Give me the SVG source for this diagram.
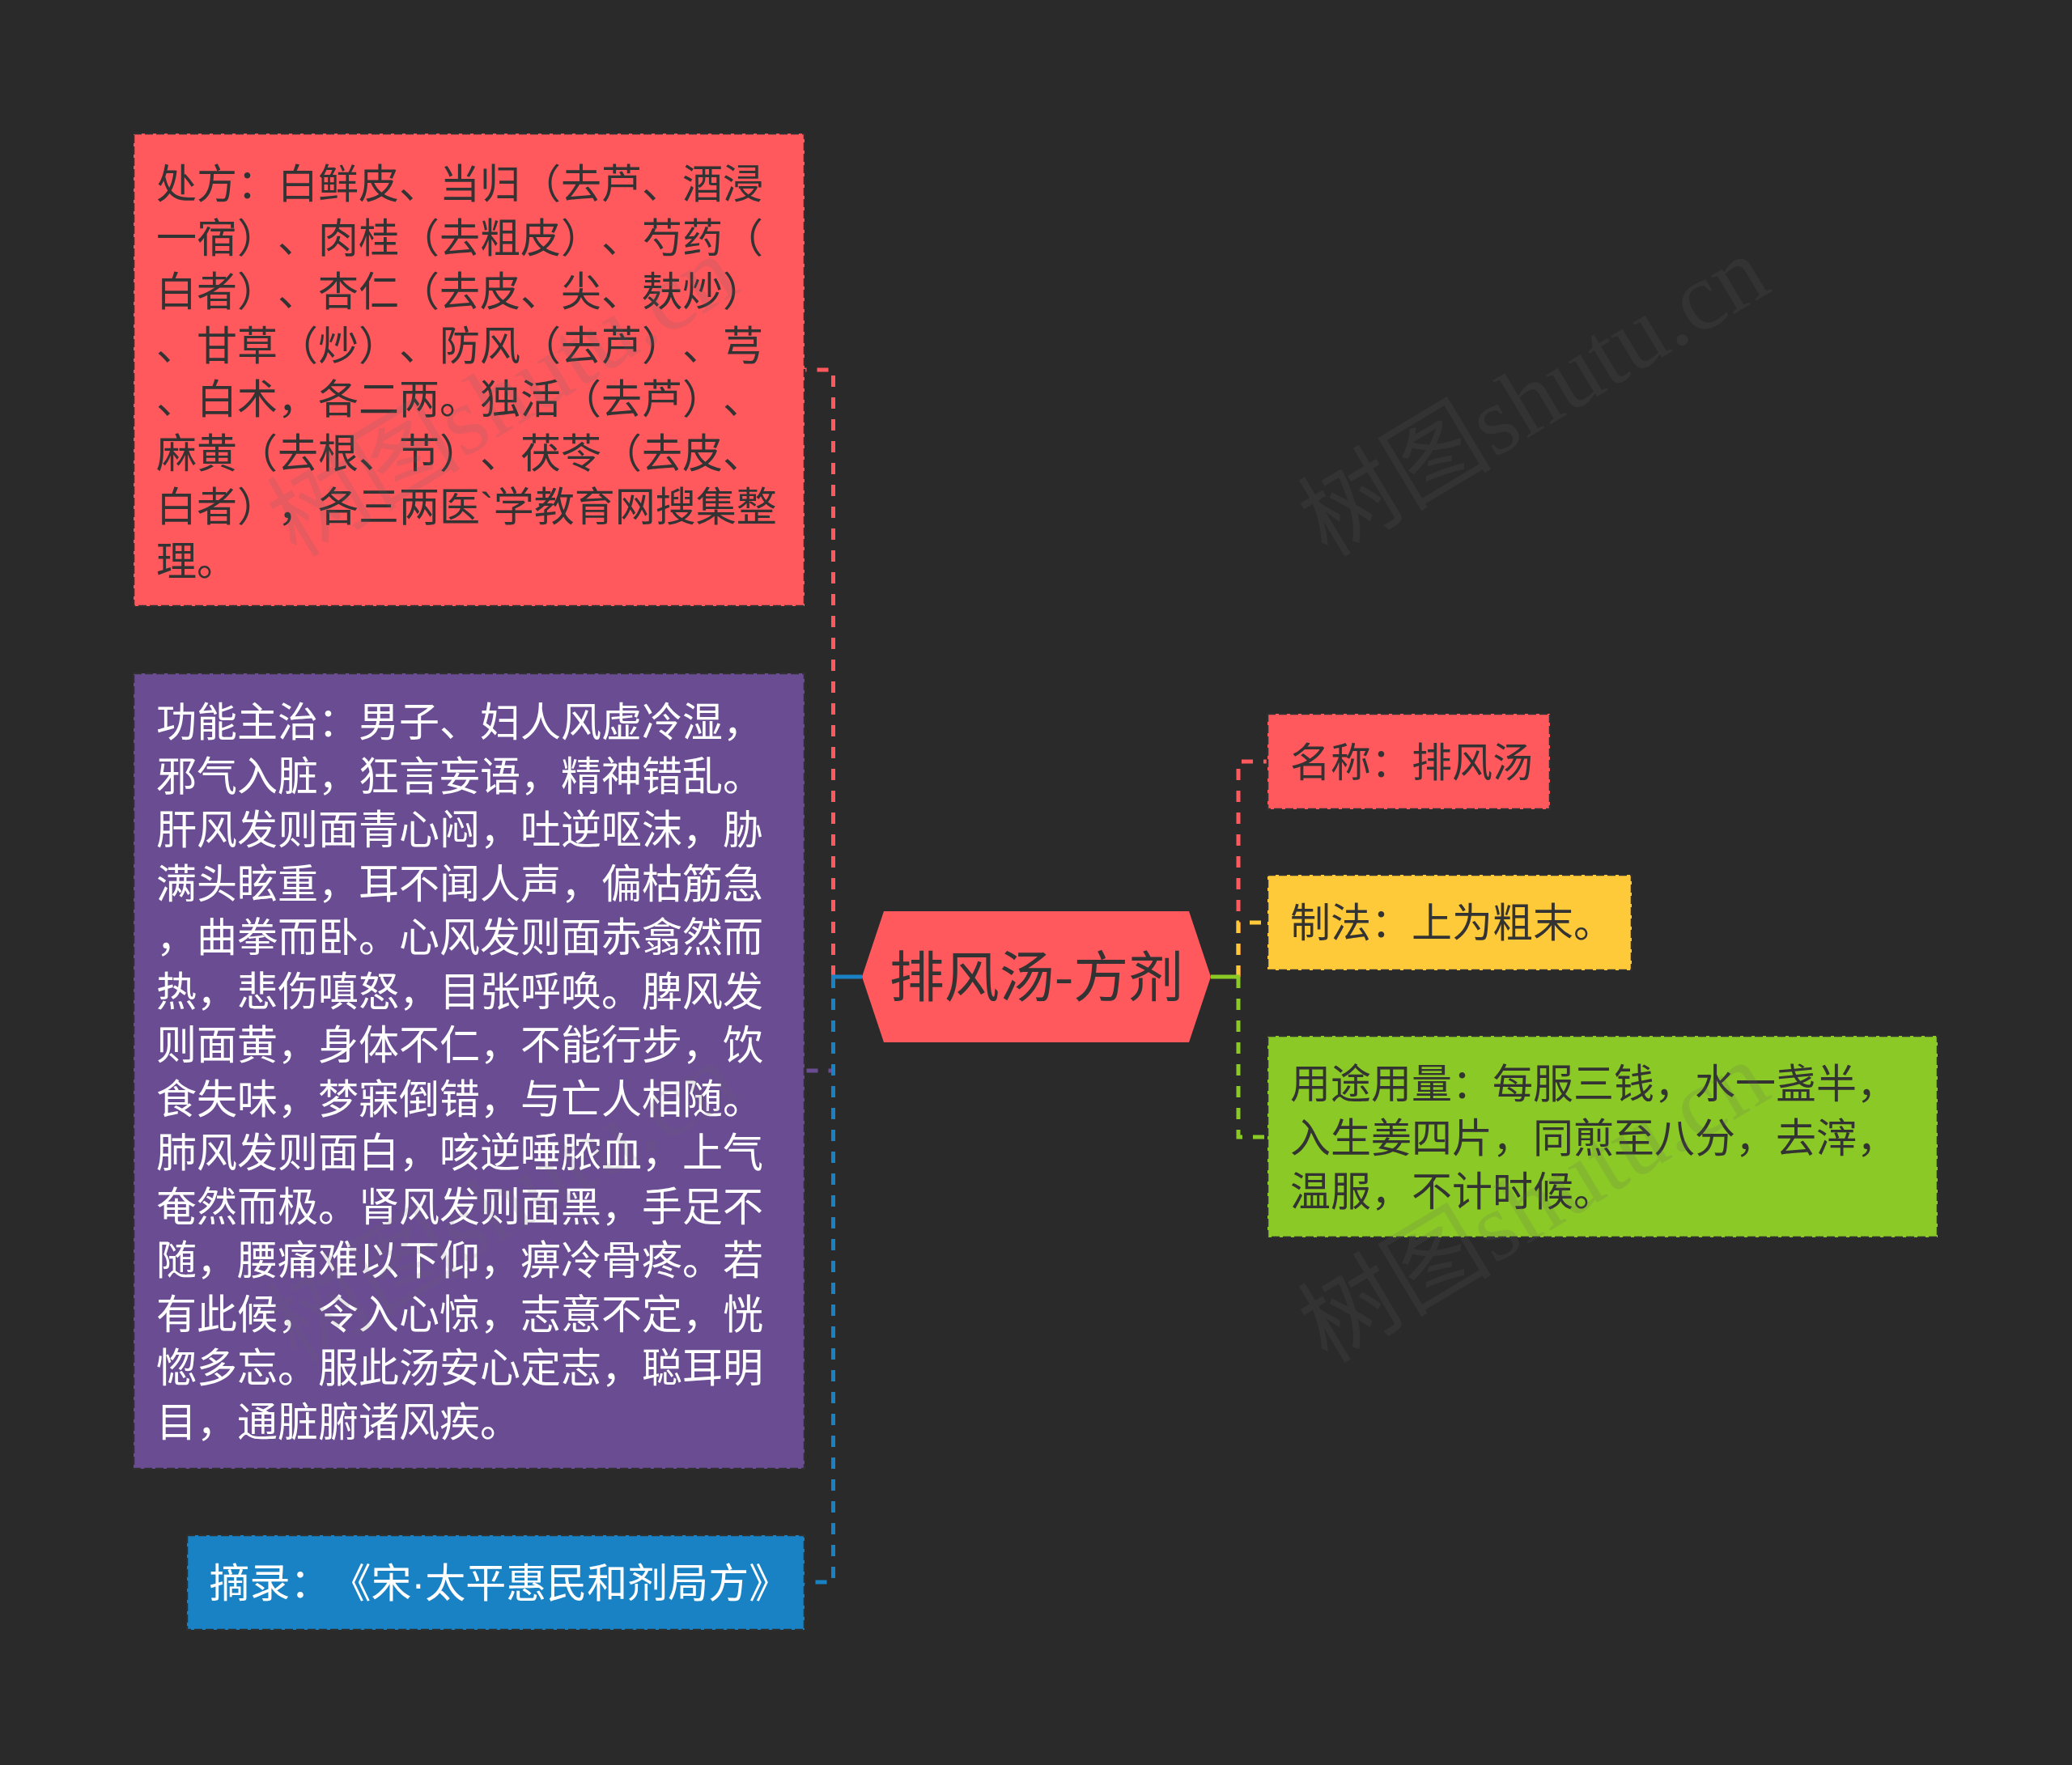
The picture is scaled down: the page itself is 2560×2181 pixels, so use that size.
<svg xmlns="http://www.w3.org/2000/svg" width="2560" height="2181" viewBox="0 0 2560 2181">
<style>
  text { text-spacing-trim: space-all; font-kerning: none; }
  .bg { fill: #2a2a2a; }
  .box { stroke: #2f2f2f; stroke-width: 2.5; stroke-dasharray: 10 4; }
  .red { fill: #ff595e; }
  .purple { fill: #6a4c93; }
  .blue { fill: #1982c4; }
  .yellow { fill: #ffca3a; }
  .green { fill: #8ac926; }
  .t { font-family: "Noto Sans CJK SC", "Noto Sans", sans-serif; font-size: 50px; }
  .dark { fill: #333333; }
  .light { fill: #ffffff; }
  .dot { font-family: "Liberation Sans", sans-serif; }
  .title { font-family: "Noto Sans CJK SC", "Noto Sans", sans-serif; font-size: 68px; fill: #333333; }
  .conn { fill: none; stroke-width: 5; stroke-dasharray: 14 13; }
  .solid { fill: none; stroke-width: 5; }
  .wm { font-family: "Liberation Serif", "Noto Sans CJK SC", serif; font-size: 120px; fill: #666666; opacity: 0.15; }
</style>
<rect class="bg" x="0" y="0" width="2560" height="2181"/>

<g id="connectors">
  <path class="conn" stroke="#ff595e" d="M1029.5 1207 V457 H994"/>
  <path class="conn" stroke="#6a4c93" d="M1029.5 1207 V1323 H994"/>
  <path class="conn" stroke="#1982c4" d="M1029.5 1207 V1955 H994"/>
  <path class="solid" stroke="#1982c4" d="M1065 1207 H1027"/>
  <path class="conn" stroke="#ff595e" d="M1530 1207 V941 H1566"/>
  <path class="conn" stroke="#ffca3a" d="M1530 1207 V1140 H1566"/>
  <path class="conn" stroke="#8ac926" d="M1530 1207 V1405 H1566"/>
  <path class="solid" stroke="#8ac926" d="M1496 1207 H1532"/>
</g>

<g id="node-root">
  <polygon class="red" points="1065,1207 1092,1126 1469,1126 1496,1207 1469,1288 1092,1288"/>
  <text class="title" x="1280.5" y="1232" text-anchor="middle">排风汤-方剂</text>
</g>

<g id="node-chufang">
  <rect class="red box" x="165" y="165" width="829" height="584"/>
  <text class="t dark">
    <tspan x="193" y="245">处方：白鲜皮、当归（去芦、酒浸</tspan>
    <tspan x="193" y="311.5">一宿）、肉桂（去粗皮）、芍药（</tspan>
    <tspan x="193" y="378">白者）、杏仁（去皮、尖、麸炒）</tspan>
    <tspan x="193" y="444.5">、甘草（炒）、防风（去芦）、芎</tspan>
    <tspan x="193" y="511">、白术，各二两。独活（去芦）、</tspan>
    <tspan x="193" y="577.5">麻黄（去根、节）、茯苓（去皮、</tspan>
    <tspan x="193" y="644">白者），各三两医<tspan class="dot">`</tspan>学教育网搜集整</tspan>
    <tspan x="193" y="710.5">理。</tspan>
  </text>
</g>

<g id="node-gongneng">
  <rect class="purple box" x="165" y="832" width="829" height="983"/>
  <text class="t light">
    <tspan x="193" y="910">功能主治：男子、妇人风虚冷湿，</tspan>
    <tspan x="193" y="976.5">邪气入脏，狂言妄语，精神错乱。</tspan>
    <tspan x="193" y="1043">肝风发则面青心闷，吐逆呕沫，胁</tspan>
    <tspan x="193" y="1109.5">满头眩重，耳不闻人声，偏枯筋急</tspan>
    <tspan x="193" y="1176">，曲拳而卧。心风发则面赤翕然而</tspan>
    <tspan x="193" y="1242.5">热，悲伤嗔怒，目张呼唤。脾风发</tspan>
    <tspan x="193" y="1309">则面黄，身体不仁，不能行步，饮</tspan>
    <tspan x="193" y="1375.5">食失味，梦寐倒错，与亡人相随。</tspan>
    <tspan x="193" y="1442">肺风发则面白，咳逆唾脓血，上气</tspan>
    <tspan x="193" y="1508.5">奄然而极。肾风发则面黑，手足不</tspan>
    <tspan x="193" y="1575">随，腰痛难以下仰，痹冷骨疼。若</tspan>
    <tspan x="193" y="1641.5">有此候，令入心惊，志意不定，恍</tspan>
    <tspan x="193" y="1708">惚多忘。服此汤安心定志，聪耳明</tspan>
    <tspan x="193" y="1774.5">目，通脏腑诸风疾。</tspan>
  </text>
</g>

<g id="node-zhailu">
  <rect class="blue box" x="231" y="1897" width="763" height="117"/>
  <text class="t light" x="258.5" y="1974">摘录：《宋<tspan class="dot">·</tspan>太平惠民和剂局方》</text>
</g>

<g id="node-mingcheng">
  <rect class="red box" x="1566" y="882" width="349" height="118"/>
  <text class="t dark" x="1594" y="960">名称：排风汤</text>
</g>

<g id="node-zhifa">
  <rect class="yellow box" x="1566" y="1081" width="450" height="118"/>
  <text class="t dark" x="1594" y="1158">制法：上为粗末。</text>
</g>

<g id="node-yongtu">
  <rect class="green box" x="1566" y="1280" width="828" height="249"/>
  <text class="t dark">
    <tspan x="1594" y="1357">用途用量：每服三钱，水一盏半，</tspan>
    <tspan x="1594" y="1423.5">入生姜四片，同煎至八分，去滓，</tspan>
    <tspan x="1594" y="1490">温服，不计时候。</tspan>
  </text>
</g>

<g id="watermarks">
  <text class="wm" transform="translate(366 690) rotate(-31)">树图shutu.cn</text>
  <text class="wm" transform="translate(1640 690) rotate(-31)">树图shutu.cn</text>
  <text class="wm" transform="translate(366 1686) rotate(-31)">树图shutu.cn</text>
  <text class="wm" transform="translate(1640 1686) rotate(-31)">树图shutu.cn</text>
</g>
</svg>
